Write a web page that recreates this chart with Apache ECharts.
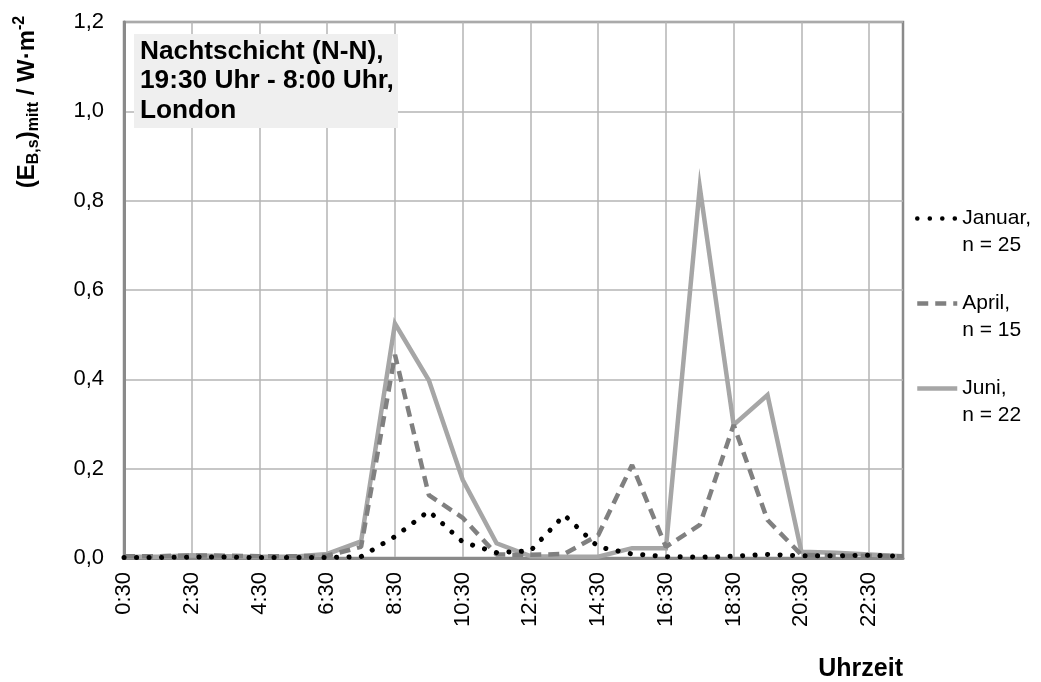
<!DOCTYPE html>
<html>
<head>
<meta charset="utf-8">
<title>Nachtschicht London</title>
<script src="https://cdn.jsdelivr.net/npm/echarts@6/dist/echarts.min.js"></script>
<style>
  html, body { margin: 0; padding: 0; background: #fff; }
  #chart { width: 1041px; height: 682px; }
</style>
</head>
<body>
<div id="chart"></div>
<script>
// Hourly time slots (mid-hour)
const hours = ['0:30', '1:30', '2:30', '3:30', '4:30', '5:30', '6:30', '7:30',
  '8:30', '9:30', '10:30', '11:30', '12:30', '13:30', '14:30', '15:30',
  '16:30', '17:30', '18:30', '19:30', '20:30', '21:30', '22:30', '23:30'];

// Mean irradiance per hour, W·m^-2
const januar = [0.001, 0.001, 0.002, 0.002, 0.001, 0.001, 0.001, 0.003,
  0.048, 0.105, 0.036, 0.012, 0.016, 0.096, 0.025, 0.009,
  0.003, 0.002, 0.004, 0.008, 0.005, 0.005, 0.006, 0.004];
const april = [0.004, 0.004, 0.006, 0.005, 0.004, 0.004, 0.005, 0.025,
  0.455, 0.141, 0.090, 0.008, 0.007, 0.009, 0.051, 0.208,
  0.025, 0.074, 0.298, 0.085, 0.007, 0.005, 0.005, 0.004];
const juni = [0.003, 0.003, 0.006, 0.004, 0.003, 0.003, 0.009, 0.037,
  0.525, 0.398, 0.175, 0.033, 0.004, 0.003, 0.003, 0.022,
  0.022, 0.830, 0.298, 0.365, 0.014, 0.012, 0.008, 0.004];

// Number of nights per month
const nights = { Januar: 25, April: 15, Juni: 22 };

const yTicks = [0, 0.2, 0.4, 0.6, 0.8, 1.0, 1.2];

const FONT = '"Liberation Sans", Arial, Helvetica, sans-serif';

const chart = echarts.init(document.getElementById('chart'));

chart.setOption({
  backgroundColor: '#ffffff',
  animation: false,
  grid: {
    left: 124, right: 138, top: 22, bottom: 124,
    show: true, borderColor: '#8a8a8a', borderWidth: 2.5, backgroundColor: 'transparent'
  },
  xAxis: {
    type: 'category',
    data: hours,
    boundaryGap: false,
    axisLine: { show: true, lineStyle: { color: '#8a8a8a', width: 3 } },
    axisTick: { show: false, interval: 1 },
    axisLabel: {
      interval: 1, rotate: 90, margin: 14,
      fontSize: 22, fontFamily: FONT, color: '#000'
    },
    splitLine: { show: true, interval: 1, lineStyle: { color: '#b5b5b5', width: 1.5 } }
  },
  yAxis: {
    type: 'value',
    min: yTicks[0], max: yTicks[yTicks.length - 1], interval: 0.2,
    axisLine: { show: true, lineStyle: { color: '#8a8a8a', width: 3 } },
    axisTick: { show: false },
    axisLabel: {
      margin: 20, fontSize: 22, fontFamily: FONT, color: '#000',
      formatter: v => v.toFixed(1).replace('.', ',')
    },
    splitLine: { show: true, lineStyle: { color: '#b5b5b5', width: 1.5 } }
  },
  legend: {
    orient: 'vertical',
    left: 915, top: 178,
    padding: 0,
    itemWidth: 40, itemHeight: 14, itemGap: 4,
    data: ['Januar', 'April', 'Juni'],
    // leading blank line keeps the month name level with the line icon
    formatter: name => '\n' + name + ',\nn = ' + nights[name],
    lineStyle: { width: 4.5 },
    itemStyle: { color: 'rgba(0,0,0,0)', borderColor: 'rgba(0,0,0,0)', borderWidth: 0 },
    textStyle: {
      fontSize: 21, fontFamily: FONT, color: '#000', lineHeight: 27
    }
  },
  series: [
    {
      name: 'Juni', type: 'line', data: juni,
      symbol: 'none', showSymbol: false,
      lineStyle: { color: '#a6a6a6', width: 4.5, cap: 'butt', join: 'miter' },
      itemStyle: { color: '#a6a6a6' }
    },
    {
      name: 'April', type: 'line', data: april,
      symbol: 'none', showSymbol: false,
      lineStyle: { color: '#808080', width: 4.5, type: [11, 7], cap: 'butt' },
      itemStyle: { color: '#808080' }
    },
    {
      name: 'Januar', type: 'line', data: januar,
      symbol: 'none', showSymbol: false,
      lineStyle: { color: '#000000', width: 5, type: [0.1, 12.4], cap: 'round' },
      itemStyle: { color: '#000000' }
    }
  ],
  graphic: [
    {
      type: 'rect', left: 134, top: 34, z: 10,
      shape: { width: 264, height: 94 },
      style: { fill: '#efefef' }
    },
    {
      type: 'text', x: 140, y: 37, z: 11, scaleX: 1.05,
      style: {
        text: 'Nachtschicht (N-N),\n19:30 Uhr - 8:00 Uhr,\nLondon',
        font: 'bold 25px ' + FONT, lineHeight: 29.5,
        fill: '#000', align: 'left', verticalAlign: 'top'
      }
    },
    {
      type: 'text', x: 27, y: 102, rotation: Math.PI / 2, z: 11,
      style: {
        text: '{m|(E}{s|B,s}{m|)}{s|mitt}{m| / W·m}{p|-2}',
        align: 'center', verticalAlign: 'middle',
        rich: {
          m: { font: 'bold 24px ' + FONT, fill: '#000', lineHeight: 30 },
          s: { font: 'bold 16px ' + FONT, fill: '#000', lineHeight: 16, verticalAlign: 'bottom' },
          p: { font: 'bold 16px ' + FONT, fill: '#000', lineHeight: 16, verticalAlign: 'top' }
        }
      }
    },
    {
      type: 'text', x: 903, y: 669, z: 11,
      style: {
        text: 'Uhrzeit', font: 'bold 25px ' + FONT,
        fill: '#000', align: 'right', verticalAlign: 'middle'
      }
    }
  ]
});
</script>
</body>
</html>
